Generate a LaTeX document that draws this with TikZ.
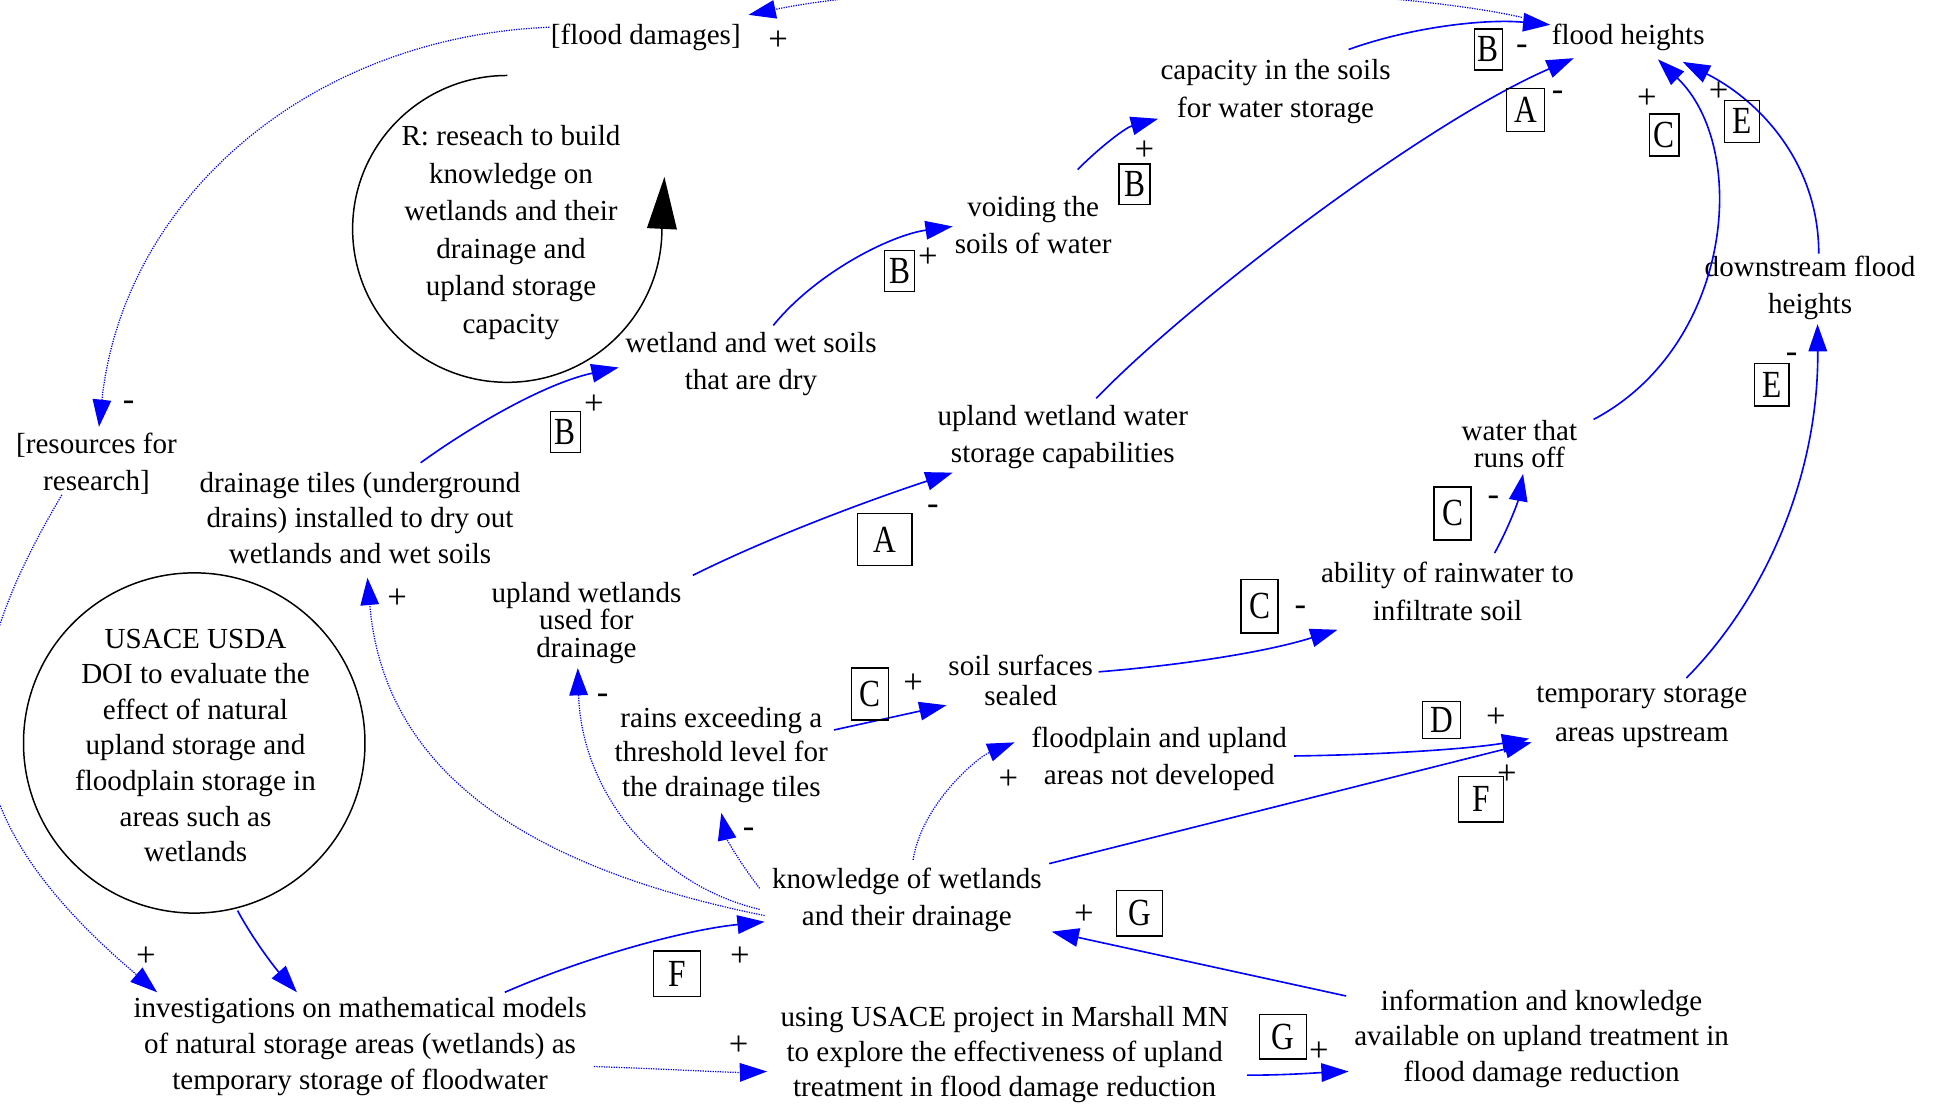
\documentclass[tikz,border=0pt]{standalone}
\usepackage{fontspec}
\setmainfont{Liberation Serif}
\usetikzlibrary{arrows.meta,shapes.geometric}
\newcommand\bxl[1]{\scalebox{0.82}[1]{#1}}
\begin{document}
\begin{tikzpicture}[x=1pt,y=-1pt,
  every node/.style={inner sep=0pt, align=center, font=\fontsize{23.5}{30}\selectfont},
  sg/.style={font=\fontsize{28}{28}\selectfont},
  lbox/.style={draw, line width=1.1pt, minimum width=24pt, minimum height=33pt, font=\fontsize{31}{31}\selectfont},
  lk/.style={draw=blue, line width=1.3pt, -{Triangle[length=22pt,width=15pt]}, blue},
  dl/.style={draw=blue, line width=1pt, dash pattern=on 1pt off 1pt, -{Triangle[length=22pt,width=15pt]}, blue},
]
\useasboundingbox (0,0) rectangle (1568,895);
\fill[white] (0,0) rectangle (1568,895);

% main nodes
\node (fd) at (522,30) {[flood damages]};
\node (fh) at (1316,30) {flood heights};
\node (cap) at (1031,74) {capacity in the soils\\for water storage};
\node (void) at (835,182) {voiding the\\soils of water};
\node (wet) at (607,294) {wetland and wet soils\\that are dry};
\node (uww) at (859,353) {upland wetland water\\storage capabilities};
\node (down) at (1463,233) {downstream flood\\heights};
\node[font=\fontsize{23.5}{22}\selectfont] (runoff) at (1228,359) {water that\\runs off};
\node (res) at (78,375) {[resources for\\research]};
\node[font=\fontsize{23.5}{28.5}\selectfont] (tiles) at (291,418.5) {drainage tiles (underground\\drains) installed to dry out\\wetlands and wet soils};
\node[font=\fontsize{23.5}{22.5}\selectfont] (uwd) at (474,503.5) {upland wetlands\\used for\\drainage};
\node (abil) at (1170,478) {ability of rainwater to\\infiltrate soil};
\node[font=\fontsize{23.5}{24}\selectfont] (soil) at (825,550) {soil surfaces\\sealed};
\node[font=\fontsize{23.5}{28}\selectfont] (rains) at (583,610) {rains exceeding a\\threshold level for\\the drainage tiles};
\node (fpl) at (937,613) {floodplain and upland\\areas not developed};
\node[font=\fontsize{23.5}{31}\selectfont] (temp) at (1327,579.5) {temporary storage\\areas upstream};
\node (know) at (733,727) {knowledge of wetlands\\and their drainage};
\node[font=\fontsize{23.5}{29}\selectfont] (inv) at (291,846) {investigations on mathematical models\\of natural storage areas (wetlands) as\\temporary storage of floodwater};
\node[font=\fontsize{23.5}{28.5}\selectfont] (usace) at (812,852.5) {using USACE project in Marshall MN\\to explore the effectiveness of upland\\treatment in flood damage reduction};
\node[font=\fontsize{23.5}{28.5}\selectfont] (info) at (1246,839.5) {information and knowledge\\available on upland treatment in\\flood damage reduction};
\node[font=\fontsize{23.5}{30.4}\selectfont] (rtext) at (413,188) {R: reseach to build\\knowledge on\\wetlands and their\\drainage and\\upland storage\\capacity};
\node[ellipse, draw, line width=1.2pt, minimum width=276pt, minimum height=275pt] (usell) at (157,600.5) {};
\node[font=\fontsize{23.5}{28.8}\selectfont] (utxt) at (158,602.5) {USACE USDA\\DOI to evaluate the\\effect of natural\\upland storage and\\floodplain storage in\\areas such as\\wetlands};

% loop arc
\draw[black, line width=1.2pt, -{Triangle[length=42pt,width=24pt]}] ([shift={(-3,-127)}]rtext.center) arc[start angle=90, end angle=360, x radius=125pt, y radius=124pt] -- ++(2,-42);

% edges
\begin{scope}
\clip (0,0) rectangle (1568,895);
\draw[dl] ([shift={(-86,-16)}]fh.center) .. controls (1100,-15) and (760,-20) .. ([shift={(83,-18)}]fd.center);
\draw[dl] ([shift={(-28,25)}]res.center) .. controls (-45,560) and (-40,660) .. ([shift={(-164,-44)}]inv.center);
\end{scope}
\draw[dl] ([shift={(-78,-8)}]fd.center) .. controls (250,30) and (100,160) .. ([shift={(2,-30)}]res.center);
\draw[lk] ([shift={(35,135.5)}]usell.center) .. controls (205,760) and (222,782) .. ([shift={(-51,-44)}]inv.center);
\draw[lk] ([shift={(117,-44)}]inv.center) .. controls (470,775) and (550,752) .. ([shift={(-115,18)}]know.center);
\draw[dl] ([shift={(189,16)}]inv.center) .. controls (540,864) and (590,867) .. ([shift={(-192,13.5)}]usace.center);
\draw[dl] ([shift={(-115,13)}]know.center) .. controls (420,700) and (310,620) .. ([shift={(6,48.5)}]tiles.center);
\draw[dl] ([shift={(-119,8)}]know.center) .. controls (530,715) and (470,640) .. ([shift={(-7,36.5)}]uwd.center);
\draw[dl] ([shift={(-119,-9)}]know.center) .. controls (600,700) and (588,680) .. ([shift={(0,47)}]rains.center);
\draw[dl] ([shift={(5,-32)}]know.center) .. controls (745,650) and (790,612) .. ([shift={(-117,-13)}]fpl.center);
\draw[lk] ([shift={(115,-29)}]know.center) -- ([shift={(-89,20.5)}]temp.center);
\draw[lk] ([shift={(-158,-34.5)}]info.center) -- ([shift={(117,26)}]know.center);
\draw[lk] ([shift={(196,16.5)}]usace.center) .. controls (1040,869) and (1065,867) .. ([shift={(-156,26.5)}]info.center);
\draw[lk] ([shift={(49,-44.5)}]tiles.center) .. controls (380,345) and (440,310) .. ([shift={(-107,3)}]wet.center);
\draw[lk] ([shift={(18,-31)}]wet.center) .. controls (660,220) and (720,190) .. ([shift={(-65,1)}]void.center);
\draw[lk] ([shift={(36,-45)}]void.center) .. controls (890,118) and (910,103) .. ([shift={(-95,22)}]cap.center);
\draw[lk] ([shift={(59,-34)}]cap.center) .. controls (1140,22) and (1200,15) .. ([shift={(-63,-10)}]fh.center);
\draw[lk] ([shift={(27,-31)}]uww.center) .. controls (960,245) and (1150,100) .. ([shift={(-44,17)}]fh.center);
\draw[lk] ([shift={(86,-38.5)}]uwd.center) .. controls (620,435) and (700,405) .. ([shift={(-89,29)}]uww.center);
\draw[lk] ([shift={(91,-20)}]rains.center) -- ([shift={(-60,20)}]soil.center);
\draw[lk] ([shift={(63,-7)}]soil.center) .. controls (950,538) and (1020,528) .. ([shift={(-89,31)}]abil.center);
\draw[lk] ([shift={(38,-31)}]abil.center) .. controls (1220,425) and (1227,405) .. ([shift={(3,24)}]runoff.center);
\draw[lk] ([shift={(60,-20)}]runoff.center) .. controls (1400,280) and (1415,120) .. ([shift={(24,18)}]fh.center);
\draw[lk] ([shift={(36,-31.5)}]temp.center) .. controls (1430,480) and (1470,380) .. ([shift={(6,29)}]down.center);
\draw[lk] ([shift={(7,-28)}]down.center) .. controls (1470,130) and (1420,80) .. ([shift={(44,20)}]fh.center);
\draw[lk] ([shift={(109,-2)}]fpl.center) .. controls (1120,610) and (1190,605) .. ([shift={(-91,17.5)}]temp.center);

% signs
\node[sg] (s1) at (629,33) {+};
\node[sg] (s2) at (104,328) {-};
\node[sg] (s3) at (118,773) {+};
\node[sg] (s4) at (598,773) {+};
\node[sg] (s5) at (597,845) {+};
\node[sg] (s6) at (321,484) {+};
\node[sg] (s7) at (487,565) {-};
\node[sg] (s8) at (605,673) {-};
\node[sg] (s9) at (815,630) {+};
\node[sg] (s10) at (1218,626) {+};
\node[sg] (s11) at (876,739) {+};
\node[sg] (s12) at (1066,850) {+};
\node[sg] (s13) at (480,327) {+};
\node[sg] (s14) at (750,208) {+};
\node[sg] (s15) at (925,122) {+};
\node[sg] (s16) at (1230,40) {-};
\node[sg] (s17) at (1259,77) {-};
\node[sg] (s18) at (754,412) {-};
\node[sg] (s19) at (738,553) {+};
\node[sg] (s20) at (1051,494) {-};
\node[sg] (s21) at (1207,405) {-};
\node[sg] (s22) at (1331,80) {+};
\node[sg] (s23) at (1448,289) {-};
\node[sg] (s24) at (1389,74) {+};
\node[sg] (s25) at (1209,580) {+};

% boxes
\node[lbox, minimum width=38pt, minimum height=37pt] (bF1) at (547,787) {\bxl{F}};
\node[lbox, minimum width=36pt, minimum height=37pt] (bF2) at (1197,646) {\bxl{F}};
\node[lbox, minimum width=37pt, minimum height=37pt] (bG1) at (921,738) {\bxl{G}};
\node[lbox, minimum width=38pt, minimum height=36pt] (bG2) at (1037,838) {\bxl{G}};
\node[lbox] (bB1) at (457,349) {\bxl{B}};
\node[lbox] (bB2) at (727,219) {\bxl{B}};
\node[lbox, minimum width=25pt] (bB3) at (917,149) {\bxl{B}};
\node[lbox, minimum width=23pt] (bB4) at (1203,40) {\bxl{B}};
\node[lbox, minimum width=31pt, minimum height=35pt] (bA1) at (1233,89) {\bxl{A}};
\node[lbox, minimum width=44pt, minimum height=42pt] (bA2) at (715,436) {\bxl{A}};
\node[lbox, minimum width=30pt, minimum height=42pt] (bC1) at (703,561) {\bxl{C}};
\node[lbox, minimum width=30pt, minimum height=43pt] (bC2) at (1018,490) {\bxl{C}};
\node[lbox, minimum width=30pt, minimum height=43pt] (bC3) at (1174,415) {\bxl{C}};
\node[lbox, minimum width=24pt, minimum height=34pt] (bC4) at (1345,109) {\bxl{C}};
\node[lbox, minimum width=28pt, minimum height=34pt] (bE1) at (1408,98) {\bxl{E}};
\node[lbox, minimum width=28pt, minimum height=34pt] (bE2) at (1432,311) {\bxl{E}};
\node[lbox, minimum width=31pt, minimum height=30pt] (bD) at (1165,582) {\bxl{D}};
\end{tikzpicture}
\end{document}
